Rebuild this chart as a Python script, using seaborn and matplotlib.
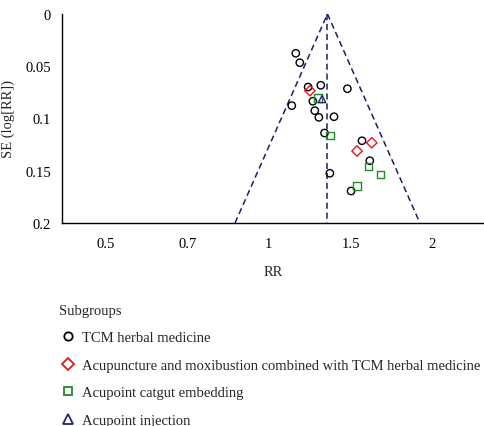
import numpy as np
import pandas as pd
import matplotlib
matplotlib.use("Agg")
import matplotlib.pyplot as plt
import seaborn as sns
from matplotlib.lines import Line2D

# study estimates
herbal_rr = [1.121, 1.140, 1.181, 1.246, 1.395, 1.205, 1.102, 1.215, 1.236, 1.318,
             1.266, 1.484, 1.534, 1.295, 1.417]
herbal_se = [0.0376, 0.0466, 0.0699, 0.0682, 0.0715, 0.0835, 0.0877, 0.0925, 0.0989, 0.0983,
             0.1139, 0.1213, 0.1404, 0.1524, 0.1694]
acu_rr = [1.190, 1.547, 1.453]
acu_se = [0.0734, 0.1232, 0.1311]
catgut_rr = [1.232, 1.295, 1.525, 1.605, 1.453]
catgut_se = [0.0804, 0.1165, 0.1457, 0.1534, 0.1646]
inject_rr = [1.253]
inject_se = [0.0813]

pooled_rr = 1.282
se_max = 0.2

groups = ["TCM herbal medicine",
          "Acupuncture and moxibustion combined with TCM herbal medicine",
          "Acupoint catgut embedding",
          "Acupoint injection"]
colors = ["black", "#e8141c", "#1f8a2a", "#23237a"]
markers = ["o", "D", "s", "^"]

df = pd.concat([
    pd.DataFrame({"RR": herbal_rr, "SE": herbal_se, "group": groups[0]}),
    pd.DataFrame({"RR": acu_rr, "SE": acu_se, "group": groups[1]}),
    pd.DataFrame({"RR": catgut_rr, "SE": catgut_se, "group": groups[2]}),
    pd.DataFrame({"RR": inject_rr, "SE": inject_se, "group": groups[3]}),
], ignore_index=True)

sns.set_style("white")
plt.rcParams["font.family"] = ["Liberation Serif", "DejaVu Serif"]

fig = plt.figure(figsize=(4.85, 4.27), dpi=100)
ax = fig.add_axes([62 / 485, 1 - 224 / 427, 1 - 62 / 485, 209 / 427])

# funnel lines
line_col = "#1c1c6e"
lo = pooled_rr * np.exp(-1.96 * se_max)
hi = pooled_rr * np.exp(1.96 * se_max)
ax.plot([lo, pooled_rr, hi], [se_max, 0, se_max], ls=(0, (4, 2.5)), color=line_col, lw=1.1, zorder=1)
ax.plot([pooled_rr, pooled_rr], [0, se_max], ls=(0, (4, 2.5)), color=line_col, lw=1.1, zorder=1)

sns.scatterplot(data=df, x="RR", y="SE", hue="group", style="group",
                palette=dict(zip(groups, colors)), markers=dict(zip(groups, markers)),
                s=28, linewidth=1.0, legend=False, ax=ax, zorder=3)
for coll in ax.collections:
    fc = coll.get_facecolors()
    coll.set_edgecolors(fc)
    coll.set_facecolors("none")

ax.set_xscale("log")
ax.set_xlim(0.416, 2.5)
ax.set_ylim(0.2, 0)
ax.set_xticks([0.5, 0.7071, 1, 1.4142, 2])
ax.set_xticklabels(["0.5", "0.7", "1", "1.5", "2"])
ax.xaxis.set_minor_locator(matplotlib.ticker.NullLocator())
ax.set_yticks([0, 0.05, 0.1, 0.15, 0.2])
ax.set_yticklabels(["0", "0.05", "0.1", "0.15", "0.2"])
ax.tick_params(direction="inout", length=6, width=1, labelsize=10.5, colors="black")
ax.tick_params(axis="x", pad=7)
ax.tick_params(axis="y", pad=5)
for s in ["top", "right"]:
    ax.spines[s].set_visible(False)
for s in ["left", "bottom"]:
    ax.spines[s].set_color("black")
    ax.spines[s].set_linewidth(1.0)
ax.set_xlabel("RR", fontsize=10.5, labelpad=11)
ax.set_ylabel("SE (log[RR])", fontsize=10.5, labelpad=7)

handles = [Line2D([], [], ls="none", marker=m, mec=c, mfc="none", mew=1.3, ms=7.5 if m == "^" else 6)
           for m, c in zip(markers, colors)]
leg = fig.legend(handles, groups, title="Subgroups", loc="upper left",
                 bbox_to_anchor=(53 / 485, 1 - 299 / 427), frameon=False,
                 fontsize=10.5, title_fontsize=10.5, handletextpad=0.4, labelspacing=0.98,
                 handlelength=1.2, borderaxespad=0)
leg._legend_box.align = "left"

fig.savefig("out.png", dpi=100)
